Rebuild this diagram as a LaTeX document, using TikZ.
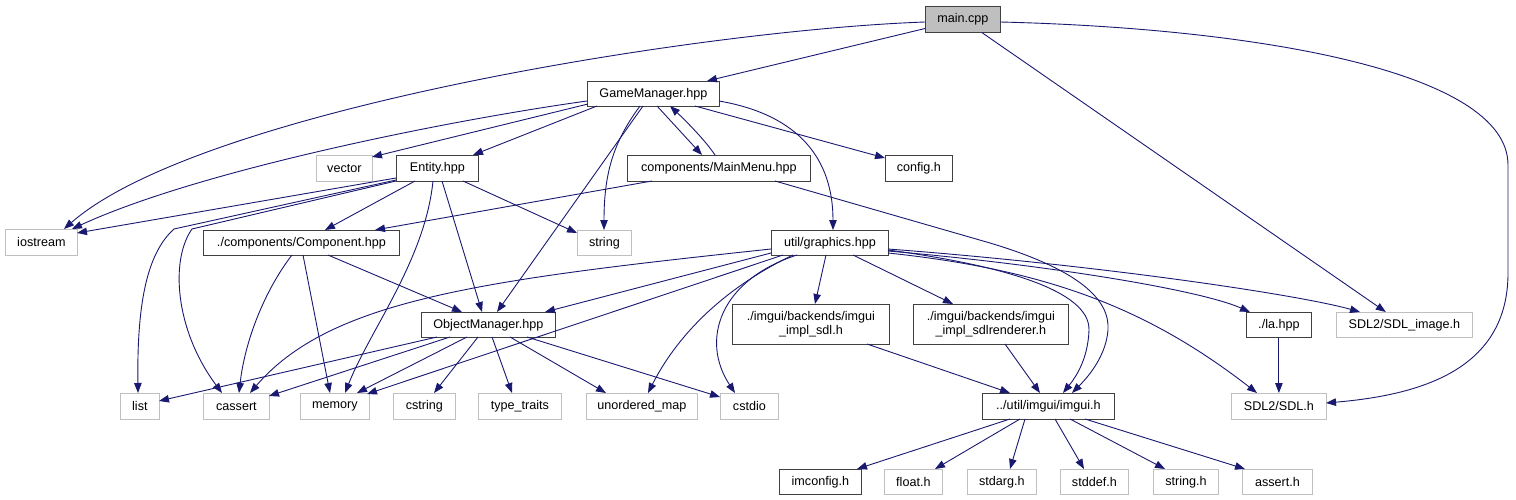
\documentclass[tikz,border=0pt]{standalone}
\usepackage{fontspec}
\setmainfont{Liberation Sans}
\usetikzlibrary{arrows.meta,calc}
\definecolor{edgec}{HTML}{191970}
\definecolor{docb}{HTML}{404040}
\definecolor{undocb}{HTML}{BFBFBF}
\definecolor{mainfill}{HTML}{BFBFBF}
\begin{document}
\begin{tikzpicture}[x=1pt,y=-1pt,
  base/.style={anchor=north west,inner sep=0pt,line width=0.8pt,font=\fontsize{12.6}{14.5}\selectfont,align=center},
  doc/.style={base,draw=docb,fill=white},
  undoc/.style={base,draw=undocb,fill=white},
  mainbox/.style={base,draw=docb,fill=mainfill},
  dep/.style={draw=edgec,line width=0.9pt,-{Triangle[length=10pt,width=7.5pt]},fill=none},
  ]
\useasboundingbox (0,0) rectangle (1516,500);
% nodes
\node[mainbox,minimum width=75pt,minimum height=26pt] (main) at (925,6) {main.cpp};
\node[doc,minimum width=132pt,minimum height=25pt] (gm) at (587,81) {GameManager.hpp};
\node[doc,minimum width=183pt,minimum height=26pt] (mm) at (627,155) {components/MainMenu.hpp};
\node[doc,minimum width=67pt,minimum height=26pt] (cfg) at (885,155) {config.h};
\node[undoc,minimum width=56pt,minimum height=26pt] (vec) at (316,155) {vector};
\node[doc,minimum width=82pt,minimum height=26pt] (ent) at (396,155) {Entity.hpp};
\node[undoc,minimum width=54pt,minimum height=25pt] (str) at (577,230) {string};
\node[doc,minimum width=117pt,minimum height=25pt] (gfx) at (771,230) {util/graphics.hpp};
\node[undoc,minimum width=72pt,minimum height=26pt] (ios) at (5,229) {iostream};
\node[doc,minimum width=196pt,minimum height=25pt] (comp) at (203,230) {./components/Component.hpp};
\node[doc,minimum width=134pt,minimum height=25pt] (om) at (421,312) {ObjectManager.hpp};
\node[undoc,minimum width=39pt,minimum height=26pt] (list) at (120,393) {list};
\node[undoc,minimum width=66pt,minimum height=26pt] (cassert) at (203,393) {cassert};
\node[undoc,minimum width=69pt,minimum height=26pt] (memory) at (300,393) {memory};
\node[undoc,minimum width=62pt,minimum height=26pt] (cstring) at (393,393) {cstring};
\node[undoc,minimum width=83pt,minimum height=26pt] (tt) at (478,393) {type\_traits};
\node[undoc,minimum width=111pt,minimum height=26pt] (umap) at (586,393) {unordered\_map};
\node[undoc,minimum width=58pt,minimum height=26pt] (cstdio) at (720,393) {cstdio};
\node[doc,minimum width=157pt,minimum height=40pt] (simpl) at (732,304) {./imgui/backends/imgui\\\_impl\_sdl.h};
\node[doc,minimum width=155pt,minimum height=40pt] (srimpl) at (913,304) {./imgui/backends/imgui\\\_impl\_sdlrenderer.h};
\node[doc,minimum width=132pt,minimum height=26pt] (imgui) at (982,393) {../util/imgui/imgui.h};
\node[doc,minimum width=65pt,minimum height=25pt] (la) at (1246,312) {./la.hpp};
\node[undoc,minimum width=136pt,minimum height=25pt] (sdlimg) at (1336,312) {SDL2/SDL\_image.h};
\node[undoc,minimum width=95pt,minimum height=26pt] (sdl) at (1231,393) {SDL2/SDL.h};
\node[doc,minimum width=82pt,minimum height=25pt] (imconfig) at (779,469) {imconfig.h};
\node[undoc,minimum width=58pt,minimum height=25pt] (float) at (884,469) {float.h};
\node[undoc,minimum width=69pt,minimum height=25pt] (stdarg) at (967,469) {stdarg.h};
\node[undoc,minimum width=68pt,minimum height=25pt] (stddef) at (1060,469) {stddef.h};
\node[undoc,minimum width=65pt,minimum height=25pt] (stringh) at (1153,469) {string.h};
\node[undoc,minimum width=70pt,minimum height=25pt] (asserth) at (1242,469) {assert.h};
% edges from main.cpp
\draw[dep] (main) -- (gm);
\draw[dep] ($(main.north west)+(0,16)$) .. controls (700,30) and (200,110) .. ($(ios.north west)+(59,0)$);
\draw[dep] (main) -- (sdlimg);
\draw[dep] ($(main.north west)+(75,16)$) .. controls (1250,28) and (1508,70) .. (1508,165) -- (1508,273) .. controls (1508,370) and (1420,395) .. ($(sdl.north west)+(95,10)$);
% GameManager
\draw[dep] ($(gm.north west)+(0,20)$) .. controls (450,120) and (200,170) .. ($(ios.north west)+(67,0)$);
\draw[dep] ($(gm.north west)+(1,23)$) -- ($(vec.north west)+(56,2)$);
\draw[dep] ($(gm.north west)+(10,25)$) -- ($(ent.north west)+(77,0)$);
\draw[dep] ($(gm.north west)+(56,25)$) -- ($(om.north west)+(76,0)$);
\draw[dep] ($(gm.north west)+(53,25)$) .. controls (615,140) and (604,170) .. ($(str.north west)+(27,0)$);
\draw[dep] ($(gm.north west)+(70,25)$) -- ($(mm.north west)+(75,0)$);
\draw[dep] ($(mm.north west)+(88,0)$) .. controls (705,140) and (685,120) .. ($(gm.north west)+(83,25)$);
\draw[dep] ($(gm.north west)+(108,25)$) -- ($(cfg.north west)+(0,3)$);
\draw[dep] ($(gm.north west)+(132,20)$) .. controls (800,115) and (833,160) .. ($(gfx.north west)+(62,0)$);
% MainMenu
\draw[dep] ($(mm.north west)+(25,26)$) -- ($(comp.north west)+(172,0)$);
\draw[dep] ($(mm.north west)+(148,26)$) -- (990,243) .. controls (1080,270) and (1110,300) .. (1108,330) .. controls (1106,355) and (1090,375) .. ($(imgui.north west)+(90,0)$);
% Entity
\draw[dep] ($(ent.north west)+(0,23)$) -- ($(ios.north west)+(72,4)$);
\draw[dep] ($(ent.north west)+(0,25)$) -- (174,229) .. controls (145,255) and (137,310) .. ($(list.north west)+(18,0)$);
\draw[dep] ($(ent.north west)+(0,26)$) -- (192,229) .. controls (170,260) and (175,330) .. ($(cassert.north west)+(19,0)$);
\draw[dep] ($(ent.north west)+(19,26)$) -- ($(comp.north west)+(122,0)$);
\draw[dep] ($(ent.north west)+(37,26)$) .. controls (425,260) and (370,330) .. ($(memory.north west)+(45,0)$);
\draw[dep] ($(ent.north west)+(46,26)$) -- ($(om.north west)+(61,0)$);
\draw[dep] ($(ent.north west)+(67,26)$) -- ($(str.north west)+(0,3)$);
% Component
\draw[dep] ($(comp.north west)+(89,25)$) .. controls (265,290) and (245,340) .. ($(cassert.north west)+(36,0)$);
\draw[dep] ($(comp.north west)+(100,25)$) -- ($(memory.north west)+(30,0)$);
\draw[dep] ($(comp.north west)+(125,25)$) -- ($(om.north west)+(41,0)$);
% ObjectManager
\draw[dep] ($(om.north west)+(16,25)$) -- ($(list.north west)+(39,8)$);
\draw[dep] ($(om.north west)+(29,25)$) -- ($(cassert.north west)+(66,3)$);
\draw[dep] ($(om.north west)+(46,25)$) -- ($(memory.north west)+(57,0)$);
\draw[dep] ($(om.north west)+(57,25)$) -- ($(cstring.north west)+(41,0)$);
\draw[dep] ($(om.north west)+(71,25)$) -- ($(tt.north west)+(34,0)$);
\draw[dep] ($(om.north west)+(89,25)$) -- ($(umap.north west)+(20,0)$);
\draw[dep] ($(om.north west)+(106,25)$) -- ($(cstdio.north west)+(0,4)$);
% graphics
\draw[dep] ($(gfx.north west)+(0,19)$) .. controls (480,280) and (330,300) .. ($(cassert.north west)+(47,0)$);
\draw[dep] ($(gfx.north west)+(0,23)$) -- ($(om.north west)+(124,0)$);
\draw[dep] ($(gfx.north west)+(12,25)$) -- ($(memory.north west)+(67,1)$);
\draw[dep] ($(gfx.north west)+(22,25)$) .. controls (730,285) and (680,330) .. ($(umap.north west)+(62,0)$);
\draw[dep] ($(gfx.north west)+(26,25)$) .. controls (720,280) and (700,340) .. ($(cstdio.north west)+(15,0)$);
\draw[dep] ($(gfx.north west)+(55,25)$) -- ($(simpl.north west)+(83,0)$);
\draw[dep] ($(gfx.north west)+(82,25)$) -- ($(srimpl.north west)+(40,0)$);
\draw[dep] ($(gfx.north west)+(117,21)$) .. controls (1050,265) and (1200,290) .. ($(la.north west)+(4,0)$);
\draw[dep] ($(gfx.north west)+(117,19)$) .. controls (1100,265) and (1300,295) .. ($(sdlimg.north west)+(24,0)$);
\draw[dep] ($(gfx.north west)+(117,23)$) .. controls (1050,270) and (1150,310) .. ($(sdl.north west)+(26,0)$);
\draw[dep] ($(gfx.north west)+(117,20)$) .. controls (1000,265) and (1090,290) .. (1089,330) .. controls (1088,360) and (1075,378) .. ($(imgui.north west)+(81,0)$);
% backends, la
\draw[dep] ($(simpl.north west)+(135,40)$) -- ($(imgui.north west)+(28,0)$);
\draw[dep] ($(srimpl.north west)+(92,40)$) -- ($(imgui.north west)+(58,0)$);
\draw[dep] (la) -- (sdl);
% imgui
\draw[dep] ($(imgui.north west)+(28,26)$) -- ($(imconfig.north west)+(78,0)$);
\draw[dep] ($(imgui.north west)+(38,26)$) -- ($(float.north west)+(51,0)$);
\draw[dep] ($(imgui.north west)+(43,26)$) -- ($(stdarg.north west)+(43,0)$);
\draw[dep] ($(imgui.north west)+(73,26)$) -- ($(stddef.north west)+(24,0)$);
\draw[dep] ($(imgui.north west)+(88,26)$) -- ($(stringh.north west)+(12,0)$);
\draw[dep] ($(imgui.north west)+(103,26)$) -- ($(asserth.north west)+(3,0)$);
\end{tikzpicture}
\end{document}
